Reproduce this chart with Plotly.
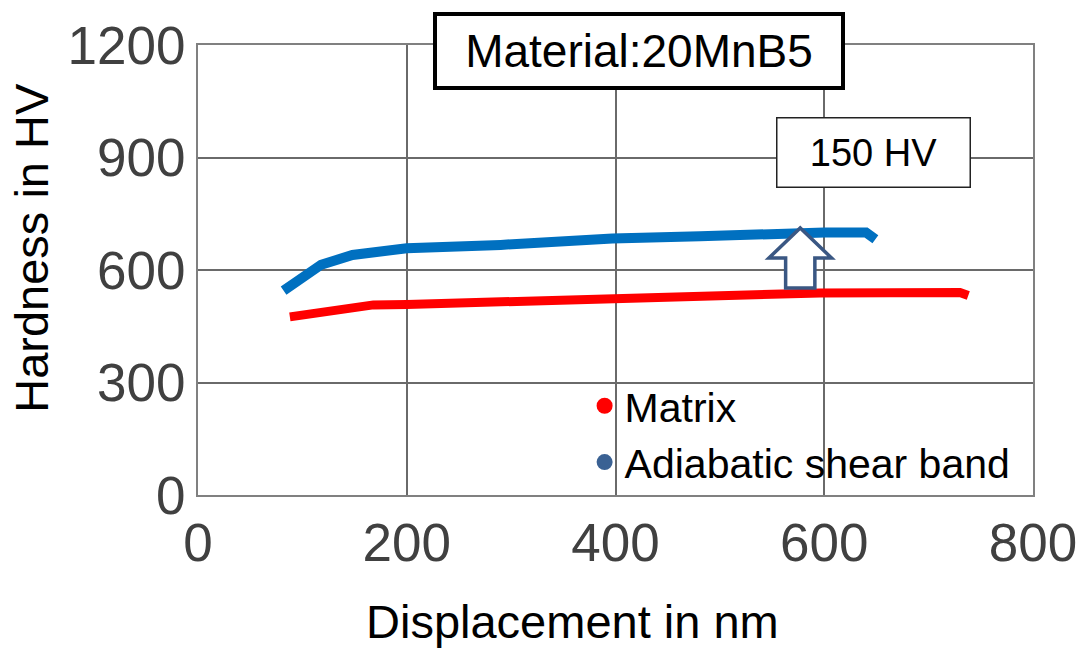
import plotly.graph_objects as go

# Nanoindentation hardness vs. displacement
matrix_x = [88, 168, 200, 302, 414, 596, 730, 738]
matrix_y = [475, 507, 508, 515, 528, 539, 540, 532]

asb_x = [82, 118, 148, 200, 290, 397, 481, 545, 600, 640, 649]
asb_y = [545, 614, 640, 658, 667, 684, 690, 698, 700, 700, 682]

x_ticks = [0, 200, 400, 600, 800]
y_ticks = [0, 300, 600, 900, 1200]

# Hardness increase arrow (data units)
arrow_x = 577
arrow_base = 552
arrow_head_base = 632
arrow_tip = 712
arrow_head_half = 30
arrow_shaft_half = 14

# Label for the hardness increase (data units)
delta_label = "150 HV"
delta_label_x = 647
delta_label_y = 913

FONT = "Liberation Sans, Arial, sans-serif"

fig = go.Figure()

fig.add_trace(go.Scatter(x=matrix_x, y=matrix_y, mode="lines",
                         line=dict(color="#ff0000", width=9),
                         showlegend=False, hoverinfo="skip"))
fig.add_trace(go.Scatter(x=asb_x, y=asb_y, mode="lines",
                         line=dict(color="#0070c0", width=10),
                         showlegend=False, hoverinfo="skip"))

# legend entries drawn as dots
fig.add_trace(go.Scatter(x=[None], y=[None], mode="markers", name="Matrix",
                         marker=dict(color="#ff0000", size=17)))
fig.add_trace(go.Scatter(x=[None], y=[None], mode="markers",
                         name="Adiabatic shear band",
                         marker=dict(color="#3a6193", size=17)))

path = (f"M {arrow_x - arrow_shaft_half},{arrow_base} "
        f"L {arrow_x + arrow_shaft_half},{arrow_base} "
        f"L {arrow_x + arrow_shaft_half},{arrow_head_base} "
        f"L {arrow_x + arrow_head_half},{arrow_head_base} "
        f"L {arrow_x},{arrow_tip} "
        f"L {arrow_x - arrow_head_half},{arrow_head_base} "
        f"L {arrow_x - arrow_shaft_half},{arrow_head_base} Z")
fig.add_shape(type="path", path=path, xref="x", yref="y",
              fillcolor="white", line=dict(color="#3a5783", width=3.5))

fig.add_annotation(x=delta_label_x, y=delta_label_y, xref="x", yref="y",
                   text=delta_label, showarrow=False,
                   font=dict(family=FONT, size=38, color="black"),
                   bgcolor="white", bordercolor="#222", borderwidth=1.5,
                   width=190, height=66, borderpad=1)
fig.add_annotation(x=0.528, y=0.987, xref="paper", yref="paper",
                   text="Material:20MnB5", showarrow=False,
                   font=dict(family=FONT, size=46, color="black"),
                   bgcolor="white", bordercolor="black", borderwidth=4,
                   width=404, height=70, borderpad=0,
                   xanchor="center", yanchor="middle")

# axis titles
fig.add_annotation(x=0.448, y=-0.28, xref="paper", yref="paper",
                   text="Displacement in nm", showarrow=False,
                   font=dict(family=FONT, size=47, color="black"),
                   xanchor="center", yanchor="middle")
fig.add_annotation(x=-0.199, y=0.549, xref="paper", yref="paper",
                   text="Hardness in HV", textangle=-90, showarrow=False,
                   font=dict(family=FONT, size=47, color="black"),
                   xanchor="center", yanchor="middle")

fig.update_layout(
    width=1089, height=649,
    margin=dict(l=198, r=56, t=45, b=154),
    paper_bgcolor="white", plot_bgcolor="white",
    font=dict(family=FONT, color="#404040"),
    legend=dict(x=0.463, y=0.272, xanchor="left", yanchor="top",
                bgcolor="rgba(0,0,0,0)",
                font=dict(family=FONT, size=41, color="black"),
                itemsizing="trace", tracegroupgap=0),
    xaxis=dict(range=[0, 800], tickvals=x_ticks, ticks="",
               tickfont=dict(family=FONT, size=53, color="#404040"),
               showgrid=True, gridcolor="#6a6a6a", gridwidth=1.5,
               showline=True, linecolor="#808080", linewidth=2, mirror=True,
               zeroline=False),
    yaxis=dict(range=[0, 1200], tickvals=y_ticks, ticks="",
               tickfont=dict(family=FONT, size=53, color="#404040"),
               showgrid=True, gridcolor="#6a6a6a", gridwidth=1.5,
               showline=True, linecolor="#808080", linewidth=2, mirror=True,
               zeroline=False),
)

fig.write_html("out.html")
